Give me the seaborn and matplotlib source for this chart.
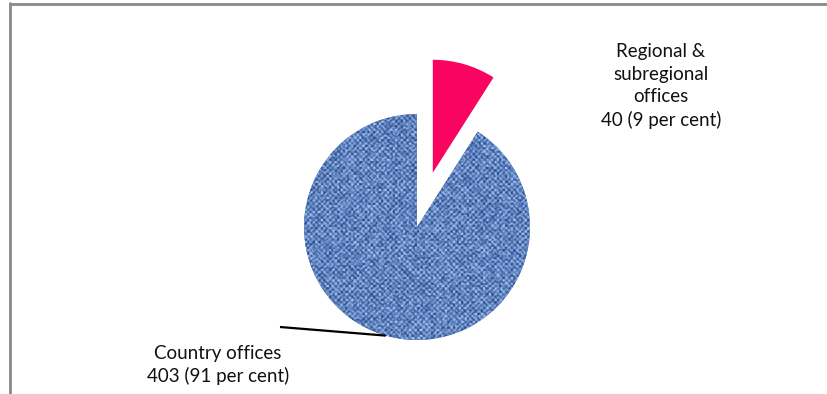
import numpy as np
import matplotlib
matplotlib.use("Agg")
import matplotlib.pyplot as plt
from matplotlib.colors import LinearSegmentedColormap
from matplotlib.lines import Line2D
import seaborn as sns

# Staff by office type
categories = ["Regional & subregional offices", "Country offices"]
values = [40, 403]
shares = [9, 91]
label_names = ["Regional &\nsubregional\noffices", "Country offices"]

sns.set_theme(style="white")
plt.rcParams["font.family"] = ["Lato", "DejaVu Sans"]

W, H = 827, 394
fig = plt.figure(figsize=(W / 100, H / 100), dpi=100)
ax = fig.add_axes([0, 0, 1, 1])

cx, cy, r = 417, H - 227, 113
colors = ["#FA0462", "#6283BE"]
# pie offsets are given in data units, so scale the pull-out by the radius
explode = [0.5 * r, 0]
wedges, _ = ax.pie(
    values,
    colors=colors,
    startangle=90,
    counterclock=False,
    explode=explode,
    radius=r,
    center=(cx, cy),
    wedgeprops=dict(linewidth=0),
    frame=True,
)

# woven fabric texture for the country-office slice
n = 2 * r + 6
yy, xx = np.mgrid[0:n, 0:n].astype(float)
weave = np.sin(2 * np.pi * xx / 5.5) * np.sin(2 * np.pi * yy / 5.5)
bx, by = np.floor(xx / 2), np.floor(yy / 2)
grain = np.abs(np.modf(np.sin(bx * 12.9898 + by * 78.233) * 43758.5453)[0])
tex = 0.5 + 0.25 * weave + 0.45 * (grain - 0.5)
tex = np.clip(tex, 0, 1)
cmap = LinearSegmentedColormap.from_list("fabric", ["#233F7A", "#5F84C2", "#B7CFF5"])
img = ax.imshow(tex, cmap=cmap, vmin=0, vmax=1, interpolation="bilinear",
                extent=(cx - n / 2, cx + n / 2, cy - n / 2, cy + n / 2), zorder=3)
img.set_clip_path(wedges[1])

ax.set_xlim(0, W)
ax.set_ylim(0, H)
ax.set_aspect("equal")
ax.axis("off")

# labels
ax.text(661, H - 86, f"{label_names[0]}\n{values[0]} ({shares[0]} per cent)",
        ha="center", va="center", fontsize=13.5, linespacing=1.38, color="#111111")
ax.text(218, H - 365, f"{label_names[1]}\n{values[1]} ({shares[1]} per cent)",
        ha="center", va="center", fontsize=13.5, linespacing=1.38, color="#111111")

# leader line to the country-office slice
ang = np.deg2rad(254)
ax.plot([280, cx + r * np.cos(ang)], [H - 327, cy + r * np.sin(ang)],
        color="black", linewidth=1.6, solid_capstyle="butt", zorder=4)

# chart frame
fig.add_artist(Line2D([10 / W, 10 / W], [0, 1 - 3 / H], transform=fig.transFigure,
                      color="#8A8A8A", linewidth=2))
fig.add_artist(Line2D([10 / W, 1], [1 - 3.5 / H, 1 - 3.5 / H], transform=fig.transFigure,
                      color="#8A8A8A", linewidth=2))

fig.savefig("out.png", dpi=100)
